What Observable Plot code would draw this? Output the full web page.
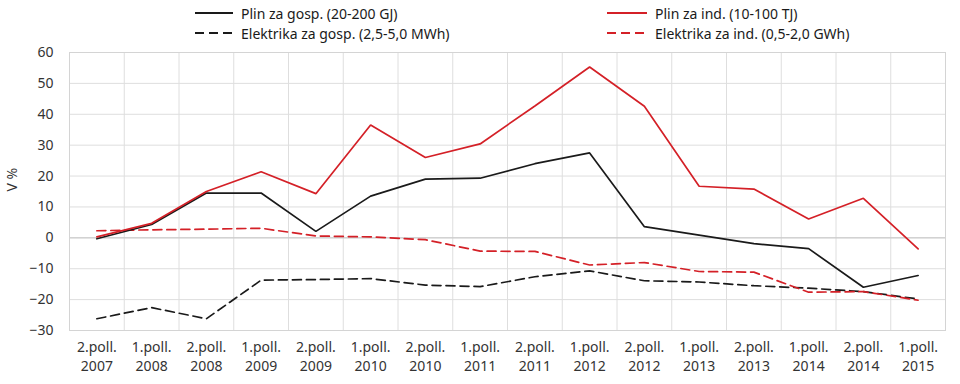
<!DOCTYPE html>
<html><head><meta charset="utf-8">
<script src="https://cdn.jsdelivr.net/npm/d3@7"></script>
<script src="https://cdn.jsdelivr.net/npm/@observablehq/plot@0.6"></script>
<style>
body{margin:0;background:#fff;font-family:"Noto Sans",sans-serif;}
#wrap{position:relative;width:960px;height:384px;}
.leg{position:absolute;font-size:14px;color:#1a1a1a;display:flex;align-items:center;white-space:nowrap;}
.leg svg{margin-right:8px;}
</style></head>
<body><div id="wrap"></div>
<script>
const periods = ["2.poll.\n2007","1.poll.\n2008","2.poll.\n2008","1.poll.\n2009","2.poll.\n2009","1.poll.\n2010","2.poll.\n2010","1.poll.\n2011","2.poll.\n2011","1.poll.\n2012","2.poll.\n2012","1.poll.\n2013","2.poll.\n2013","1.poll.\n2014","2.poll.\n2014","1.poll.\n2015"];
const plinGosp = [-0.3, 4.3, 14.5, 14.5, 2.1, 13.5, 19, 19.3, 24, 27.5, 3.6, 0.9, -1.9, -3.5, -16, -12.2];
const plinInd  = [0.3, 4.7, 15, 21.4, 14.3, 36.5, 26, 30.4, 42.7, 55.3, 42.6, 16.7, 15.8, 6.1, 12.8, -3.6];
const elGosp   = [-26.2, -22.6, -26.2, -13.7, -13.5, -13.2, -15.3, -15.8, -12.6, -10.7, -13.9, -14.3, -15.5, -16.3, -17.4, -19.8];
const elInd    = [2.3, 2.6, 2.8, 3.1, 0.6, 0.3, -0.6, -4.3, -4.4, -8.8, -8.0, -10.9, -11.1, -17.6, -17.4, -20.2];
const seriesNames = ["Plin za gosp. (20-200 GJ)","Plin za ind. (10-100 TJ)","Elektrika za gosp. (2,5-5,0 MWh)","Elektrika za ind. (0,5-2,0 GWh)"];
const yTicks = [-30,-20,-10,0,10,20,30,40,50,60];
const yLabel = "V %";

const RED = "#d42027", BLACK = "#1a1a1a";
const styles = [
  {color: BLACK, dash: null},
  {color: RED, dash: null},
  {color: BLACK, dash: "9,5"},
  {color: RED, dash: "9,5"}
];
const allSeries = [plinGosp, plinInd, elGosp, elInd];
const idx = d3.range(periods.length);
const boundaries = d3.range(periods.length - 1).map(i => i + 0.5);

const marks = [
  Plot.ruleX(boundaries, {stroke: "#dedede", strokeWidth: 1}),
  Plot.gridY(yTicks, {stroke: "#dedede", strokeOpacity: 1}),
  Plot.ruleY([0], {stroke: "#c6c6c6"}),
  Plot.frame({stroke: "#d4d4d4"}),
  Plot.axisY(yTicks, {tickSize: 0, tickPadding: 16, fontSize: 14, fill: "#333", label: null}),
  Plot.text([yLabel], {frameAnchor: "left", rotate: -90, dx: -57, fontSize: 14, fill: "#333"}),
  Plot.axisX(idx, {tickSize: 0, tickPadding: 9, fontSize: 14, fill: "#333", tickFormat: i => periods[i], label: null, lineHeight: 1.3})
];
[2, 3, 0, 1].forEach(k => {
  const data = idx.map(i => ({i, v: allSeries[k][i]}));
  marks.push(Plot.line(data, {x: "i", y: "v", stroke: styles[k].color, strokeWidth: 1.7, strokeDasharray: styles[k].dash, strokeLinejoin: "miter"}));
});

const chart = Plot.plot({
  width: 960, height: 384,
  marginTop: 52, marginBottom: 54, marginLeft: 69, marginRight: 15,
  style: {fontFamily: "'Noto Sans', sans-serif", background: "#fff"},
  x: {type: "linear", domain: [-0.5, periods.length - 0.5]},
  y: {domain: [-30, 60]},
  marks
});
const wrap = document.getElementById("wrap");
wrap.appendChild(chart);

const legPos = [
  {left: 195, top: 3}, {left: 607, top: 3}, {left: 195, top: 23}, {left: 607, top: 23}
];
seriesNames.forEach((name, k) => {
  const d = document.createElement("div");
  d.className = "leg";
  d.style.left = legPos[k].left + "px";
  d.style.top = legPos[k].top + "px";
  d.style.height = "20px";
  const w = k % 2 === 0 ? 38 : 40;
  d.innerHTML = `<svg width="${w}" height="4"><line x1="0" x2="${w}" y1="2" y2="2" stroke="${styles[k].color}" stroke-width="1.8" ${styles[k].dash ? `stroke-dasharray="${styles[k].dash}"` : ""}/></svg><span>${name}</span>`;
  wrap.appendChild(d);
});
</script></body></html>
